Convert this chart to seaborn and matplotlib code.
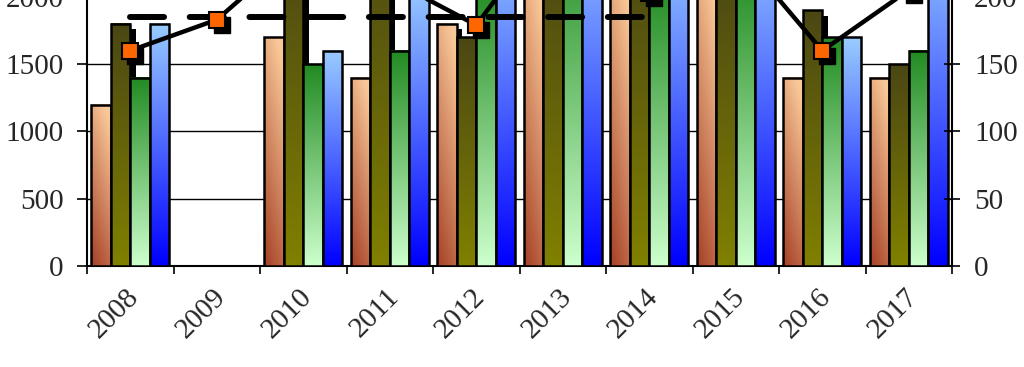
import numpy as np
import pandas as pd
import matplotlib
matplotlib.use("Agg")
import matplotlib.pyplot as plt
import seaborn as sns
from matplotlib.colors import to_rgb
from matplotlib.patches import Rectangle
from matplotlib.transforms import ScaledTranslation

# ---------------- data ----------------
years = ["2008", "2009", "2010", "2011", "2012", "2013", "2014", "2015", "2016", "2017"]
series_names = ["A", "B", "C", "D"]
peach = [1200, np.nan, 1700, 1400, 1800, 2100, 2150, 2150, 1400, 1400]
olive = [1800, np.nan, 2400, 2500, 1700, 2300, 2300, 2200, 1900, 1500]
green = [1400, np.nan, 1500, 1600, 2100, 2500, 2100, 2200, 1700, 1600]
blue = [1800, np.nan, 1600, 2100, 2500, 2600, 2400, 2500, 1700, 2500]
line_values = [160, 183, 239, 213, 179, 265, 203, 236, 160, 205]
mean_value = 185
mean_years = years[:7]

left_ticks = [0, 500, 1000, 1500, 2000]
right_ticks = [0, 50, 100, 150, 200]

# gradient specs (bottom colour, top colour)
grad_specs = [("#a9462b", "#f9c898"), ("#808000", "#4b4714"),
              ("#ccffcc", "#228b22"), ("#0000ff", "#99ccff")]
has_shadow = [True, True, True, False]

sns.set_theme(style="white")
plt.rcParams["font.family"] = ["Liberation Serif", "DejaVu Serif"]
FS = 21

df = pd.DataFrame({
    "year": years * 4,
    "series": np.repeat(series_names, len(years)),
    "value": peach + olive + green + blue,
}).dropna()

fig = plt.figure(figsize=(10.24, 3.67), dpi=100)
fig.patch.set_facecolor("white")
ax = fig.add_axes([87 / 1024, 101 / 367, 865 / 1024, 323 / 367])

sns.barplot(data=df, x="year", y="value", hue="series", order=years,
            hue_order=series_names, width=0.9, errorbar=None, legend=False,
            palette=[g[1] for g in grad_specs], saturation=1,
            edgecolor="black", linewidth=1.8, ax=ax)

shadow_tr = ax.transData + ScaledTranslation(0.055, -0.055, fig.dpi_scale_trans)


def gradient(bottom, top, k, n=96, m=16):
    v = np.linspace(0, 1, n)[:, None]
    u = np.linspace(0, 1, m)[None, :]
    if k == 0:
        t = np.clip(v * 0.85 + u * 0.3 - 0.05, 0, 1)
    else:
        t = v * np.ones_like(u)
    b = np.array(to_rgb(bottom))
    tp = np.array(to_rgb(top))
    return b[None, None, :] * (1 - t[..., None]) + tp[None, None, :] * t[..., None]


for k, cont in enumerate(ax.containers):
    bottom_c, top_c = grad_specs[k]
    img = gradient(bottom_c, top_c, k)
    for p in cont.patches:
        x0, w, h = p.get_x(), p.get_width(), p.get_height()
        if not np.isfinite(h) or h <= 0:
            continue
        p.set_facecolor("none")
        p.set_zorder(3 + k)
        ax.imshow(img, extent=(x0, x0 + w, 0, h), origin="lower",
                  aspect="auto", zorder=3 + k - 0.1, interpolation="bilinear")
        if has_shadow[k]:
            ax.add_patch(Rectangle((x0, 0), w, h, transform=shadow_tr,
                                   facecolor="black", edgecolor="none",
                                   zorder=3 + k - 0.2))

ax.set_xlim(-0.5, len(years) - 0.5)
ax.set_ylim(0, 2400)
ax.set_yticks(left_ticks)
ax.set_yticklabels([str(t) for t in left_ticks])
ax.set_xlabel("")
ax.set_ylabel("")
ax.set_axisbelow(True)
ax.yaxis.grid(True, color="black", linewidth=1.0)
ax.xaxis.grid(False)

# x tick marks at category boundaries, labels as rotated texts at centres
ax.set_xticks(np.arange(-0.5, len(years), 1))
ax.set_xticklabels([])
ax.tick_params(axis="x", which="major", length=6, width=1.2,
               direction="out", color="black", bottom=True)
label_tr = ax.get_xaxis_transform() + ScaledTranslation(0.05, -0.265, fig.dpi_scale_trans)
for i, yr in enumerate(years):
    ax.text(i, 0, yr, transform=label_tr, rotation=45, ha="right", va="center",
            rotation_mode="anchor", fontsize=FS, clip_on=False)

ax.tick_params(axis="y", which="major", length=7, width=1.2, direction="out",
               color="black", labelsize=FS, pad=10, left=True)

for s in ["left", "bottom"]:
    ax.spines[s].set_visible(True)
    ax.spines[s].set_color("black")
    ax.spines[s].set_linewidth(1.5)
ax.spines["top"].set_visible(False)
ax.spines["right"].set_visible(False)

# ---------------- secondary axis ----------------
ax2 = ax.twinx()
ax2.set_ylim(0, 240)
ax2.set_yticks(right_ticks)
ax2.set_yticklabels([str(t) for t in right_ticks])
ax2.tick_params(axis="y", length=12, width=1.2, direction="inout",
                color="black", labelsize=FS, pad=10, right=True)
ax2.spines["right"].set_visible(True)
ax2.spines["right"].set_color("black")
ax2.spines["right"].set_linewidth(1.5)
for s in ["left", "top", "bottom"]:
    ax2.spines[s].set_visible(False)
ax2.grid(False)

x_pos = np.arange(len(years))
mean_pos = [years.index(y) for y in mean_years]
ax2.plot(mean_pos, [mean_value] * len(mean_pos), color="black", lw=4.3,
         dashes=(5.7, 4.3), dash_capstyle="round", zorder=3)

marker_shadow_tr = ax2.transData + ScaledTranslation(0.05, -0.05, fig.dpi_scale_trans)
ax2.plot(x_pos, line_values, linestyle="none", marker="s", markersize=11,
         markerfacecolor="black", markeredgecolor="black",
         transform=marker_shadow_tr, zorder=4)
sns.lineplot(x=x_pos, y=line_values, ax=ax2, color="black", lw=3.2,
             marker="s", markersize=11, markerfacecolor="#ff6600",
             markeredgecolor="black", markeredgewidth=1.5, zorder=5)
ax2.set_ylabel("")
ax2.set_xlim(-0.5, len(years) - 0.5)

fig.savefig("out.png", dpi=100, facecolor="white")
